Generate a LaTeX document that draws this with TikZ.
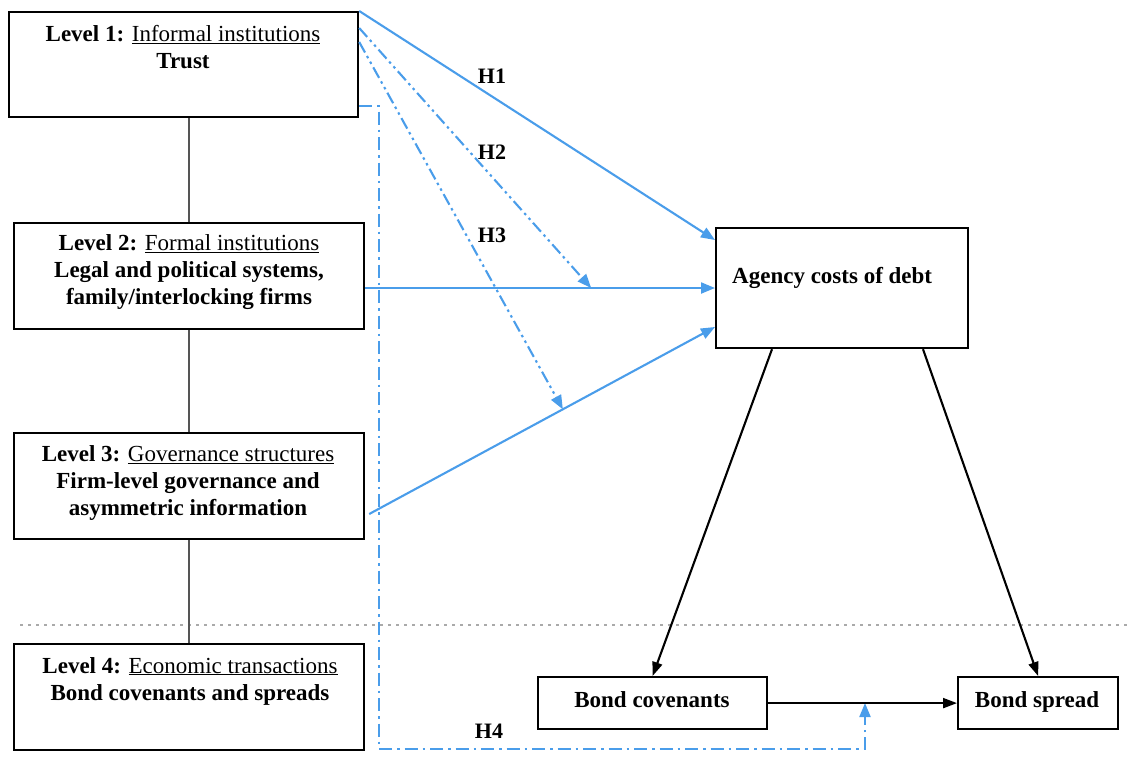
\documentclass[tikz,border=0pt]{standalone}
\usepackage{fontspec}
\setmainfont{Liberation Serif}
\usetikzlibrary{arrows.meta,calc}
\definecolor{hblue}{RGB}{74,157,234}
\definecolor{lgray}{RGB}{170,170,170}
\definecolor{dgray}{RGB}{85,85,85}
\begin{document}
\begin{tikzpicture}[x=1pt,y=-1pt,
  box/.style={draw=black, line width=2.2pt, inner sep=0pt, anchor=north west},
  txt/.style={font=\fontsize{23}{27}\selectfont, align=center, inner sep=0pt},
  hlab/.style={font=\fontsize{22}{26}\selectfont\bfseries, inner sep=0pt},
  blu/.style={draw=hblue, line width=2.1pt},
  btip/.style={-{Triangle[length=14pt,width=11pt]}},
  karrow/.style={draw=black, line width=2.1pt, -{Triangle[length=14pt,width=10pt]}},
  ddot/.style={dash pattern=on 12pt off 4pt on 2.5pt off 4pt on 2.5pt off 4pt},
  hdot/.style={dash pattern=on 13pt off 5pt on 2.5pt off 5pt},
  link/.style={draw=dgray, line width=1.5pt}]
\useasboundingbox (0,0) rectangle (1131,764);

% separator
\draw[lgray, line width=2.8pt, dash pattern=on 2.8pt off 5.2pt] (20,625) -- (1131,625);

% boxes
\node[box, minimum width=349pt, minimum height=105pt] (L1) at (8,11) {};
\node[box, minimum width=350pt, minimum height=106pt] (L2) at (13,222) {};
\node[box, minimum width=350pt, minimum height=106pt] (L3) at (13,432) {};
\node[box, minimum width=350pt, minimum height=106pt] (L4) at (13,643) {};
\node[box, minimum width=252pt, minimum height=120pt] (agency) at (715,227) {};
\node[box, minimum width=229pt, minimum height=52pt] (bondcov) at (537,676) {};
\node[box, minimum width=160pt, minimum height=52pt] (bondspread) at (957,676) {};

% texts
\node[txt] (t1) at (183,47) {\textbf{Level 1:} \underline{Informal institutions}\\\textbf{Trust}};
\node[txt] (t2) at (189,272) {\textbf{Level 2:} \underline{Formal institutions}\\\textbf{Legal and political systems,}\\\textbf{family/interlocking firms}};
\node[txt] (t3) at (188,483) {\textbf{Level 3:} \underline{Governance structures}\\\textbf{Firm-level governance and}\\\textbf{asymmetric information}};
\node[txt] (t4) at (190,681) {\textbf{Level 4:} \underline{Economic transactions}\\\textbf{Bond covenants and spreads}};
\node[txt, anchor=west] (tagency) at (732,278) {\textbf{Agency costs of debt}};
\node[txt] (tcov) at (652,700) {\textbf{Bond covenants}};
\node[txt] (tspread) at (1037,702) {\textbf{Bond spread}};

% hypothesis labels
\node[hlab] (h1) at (492,76) {H1};
\node[hlab] (h2) at (492,152) {H2};
\node[hlab] (h3) at (492,235) {H3};
\node[hlab] (h4) at (489,731) {H4};

% level links
\draw[link] (L2.north |- L1.south) -- (L2.north);
\draw[link] (L2.south) -- (L3.north);
\draw[link] (L3.south) -- (L4.north);

% blue paths
\coordinate (s2) at ([yshift=-66pt]L2.north east);
\coordinate (e2) at (agency.west |- s2);
\coordinate (s3) at ([xshift=4pt,yshift=-82pt]L3.north east);
\coordinate (e3) at ([yshift=-100pt]agency.north west);
\coordinate (m2) at ($(s2)!0.646!(e2)$);
\coordinate (m3) at ($(s3)!0.56!(e3)$);

\draw[blu, btip] (L1.north east) -- ([yshift=-13pt]agency.north west);
\draw[blu, btip] (s2) -- (e2);
\draw[blu, btip] (s3) -- (e3);
\draw[blu, ddot, btip] ([yshift=-17pt]L1.north east) -- (m2);
\draw[blu, ddot, btip] ([yshift=-31pt]L1.north east) -- (m3);

\coordinate (s4) at ([yshift=-95pt]L1.north east);
\coordinate (h4turn) at (379,749);
\coordinate (h4tip) at (865,703);
\draw[blu, hdot, btip] (s4) -- (s4 -| h4turn) -- (h4turn) -- (h4turn -| h4tip) -- (h4tip);

% black arrows
\draw[karrow] ([xshift=57pt]agency.south west) -- (bondcov.north);
\draw[karrow] ([xshift=208pt]agency.south west) -- (bondspread.north);
\draw[karrow] (bondcov.east) -- (bondspread.west);
\end{tikzpicture}
\end{document}
